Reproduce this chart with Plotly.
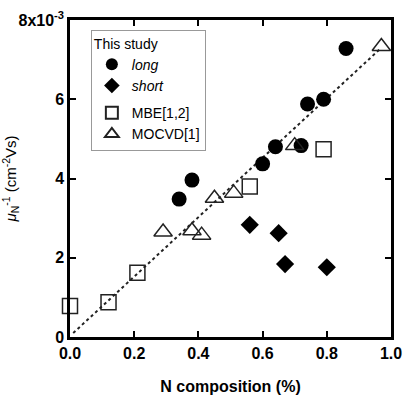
import plotly.graph_objects as go

# Data (y in units of 1e-3 cm^-2 Vs)
long_x = [0.34, 0.38, 0.60, 0.64, 0.72, 0.74, 0.79, 0.86]
long_y = [3.48, 3.96, 4.37, 4.80, 4.83, 5.88, 6.00, 7.28]
short_x = [0.56, 0.65, 0.67, 0.80]
short_y = [2.83, 2.62, 1.84, 1.76]
mbe_x = [0.0, 0.12, 0.21, 0.56, 0.79]
mbe_y = [0.78, 0.88, 1.62, 3.80, 4.74]
mocvd_x = [0.29, 0.38, 0.41, 0.45, 0.51, 0.70, 0.97]
mocvd_y = [2.65, 2.68, 2.57, 3.50, 3.63, 4.83, 7.33]
fit_x = [0.01, 0.97]
fit_y = [0.10, 7.30]
y_ticks = [0, 2, 4, 6, 8]
y_ticktext = ["0", "2", "4", "6", "8x10<sup>-3</sup>"]
x_ticks = [0.0, 0.2, 0.4, 0.6, 0.8, 1.0]

FONT = "Arial, Liberation Sans, sans-serif"

fig = go.Figure()
fig.add_trace(go.Scatter(x=fit_x, y=fit_y, mode="lines",
                         line=dict(color="#222", width=2, dash="dot"),
                         showlegend=False, hoverinfo="skip"))
fig.add_trace(go.Scatter(x=long_x, y=long_y, mode="markers", name="<i>long</i>",
                         legendgroup="a",
                         marker=dict(symbol="circle", size=15, color="black")))
fig.add_trace(go.Scatter(x=short_x, y=short_y, mode="markers", name="<i>short</i>",
                         legendgroup="a",
                         marker=dict(symbol="diamond", size=14, color="black")))
fig.add_trace(go.Scatter(x=mbe_x, y=mbe_y, mode="markers", name="MBE[1,2]",
                         legendgroup="b",
                         marker=dict(symbol="square-open", size=15, color="#222",
                                     line=dict(width=1.5))))
fig.add_trace(go.Scatter(x=mocvd_x, y=mocvd_y, mode="markers", name="MOCVD[1]",
                         legendgroup="b",
                         marker=dict(symbol="triangle-up-open", size=16, color="#222",
                                     line=dict(width=1.5))))
fig.update_traces(cliponaxis=False)

axis_common = dict(showline=True, linecolor="black", linewidth=2.5, mirror="ticks",
                   ticks="inside", ticklen=6, tickwidth=2, tickcolor="black",
                   showgrid=False, zeroline=False, automargin=False,
                   ticklabeloverflow="allow",
                   tickfont=dict(family=FONT, size=16, color="black", weight="bold"))

fig.update_xaxes(range=[0, 1], tickvals=x_ticks, tickformat=".1f",
                 title=dict(text="N composition (%)", standoff=20,
                            font=dict(family=FONT, size=16, color="black", weight="bold")),
                 **axis_common)
fig.update_yaxes(range=[0, 8], tickvals=y_ticks, ticktext=y_ticktext,
                 title=dict(text="<i>μ</i><sub>N</sub><sup>-1</sup> (cm<sup>-2</sup>Vs)",
                            standoff=10,
                            font=dict(family=FONT, size=15, color="black")),
                 **axis_common)

fig.update_layout(
    width=404, height=405,
    margin=dict(l=70, r=13, t=20, b=68),
    plot_bgcolor="white", paper_bgcolor="white",
    font=dict(family=FONT, color="black"),
    legend=dict(x=0.065, y=0.97, xanchor="left", yanchor="top",
                title=dict(text="This study", font=dict(family=FONT, size=14)),
                font=dict(family=FONT, size=14, color="black"),
                bordercolor="#999", borderwidth=1, bgcolor="white",
                tracegroupgap=6, itemsizing="constant", itemwidth=30),
)

fig.write_html("out.html", config={"displayModeBar": False},
               post_script="document.body.style.margin='0';")
